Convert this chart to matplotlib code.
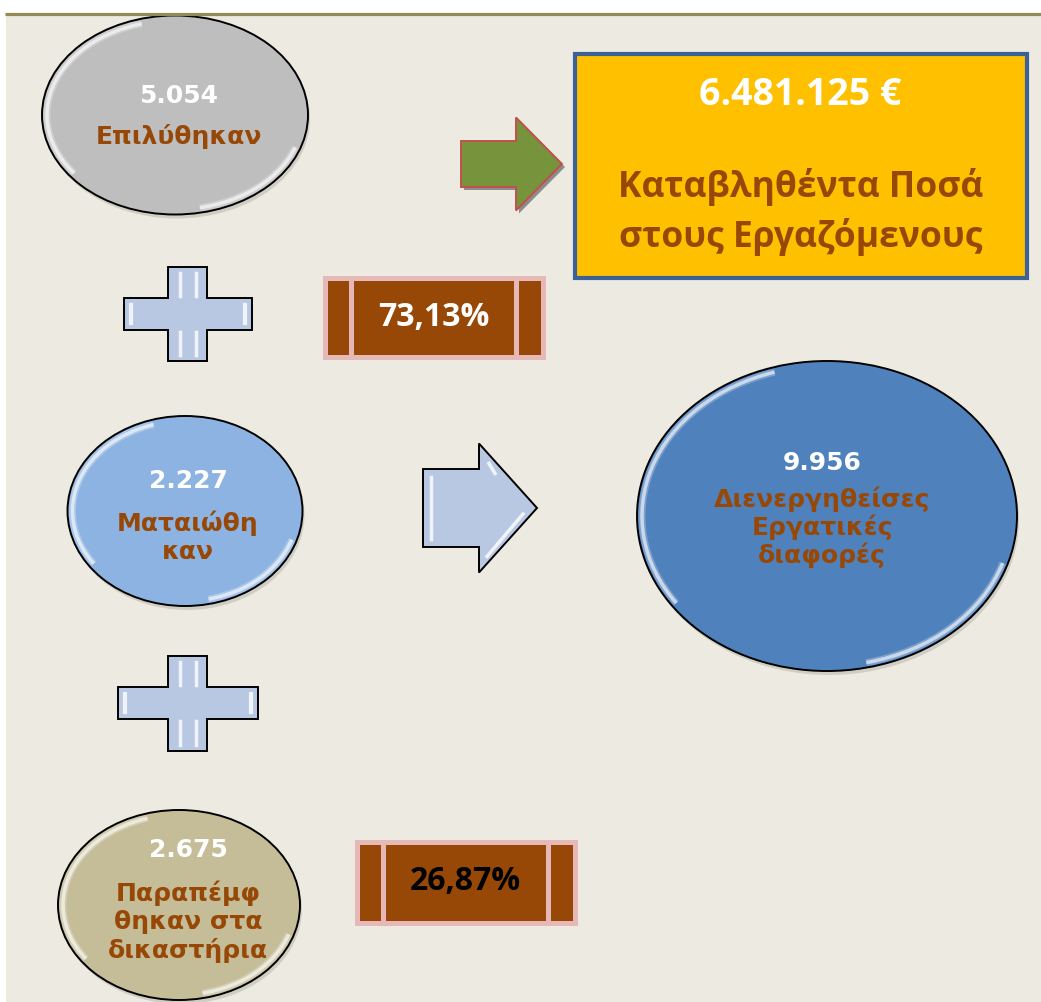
"""Labour disputes infographic, drawn with plain matplotlib patches."""

import matplotlib.pyplot as plt
from matplotlib.patches import Ellipse, Arc, Rectangle, Polygon

# data
node_values = ['5.054', '2.227', '2.675']
node_labels = ['Επιλύθηκαν', 'Ματαιώθη\nκαν', 'Παραπέμφ\nθηκαν στα\nδικαστήρια']
total_value = '9.956'
total_label = 'Διενεργηθείσες\nΕργατικές\nδιαφορές'
paid_amount = '6.481.125 €'
paid_label = 'Καταβληθέντα Ποσά\nστους Εργαζόμενους'
shares = ['73,13%', '26,87%']

# layout (pixels, y down)
W, H = 1041, 1003
node_geom = [(175, 116, 266, 199), (185, 512, 235, 190), (179, 906, 242, 190)]
node_colors = ['#BEBEBE', '#8DB3E2', '#C4BD97']
big_geom = (827, 517, 380, 310)
brown = '#974806'
pink = '#E6B9B8'

plt.rcParams['font.family'] = ['DejaVu Sans']

fig = plt.figure(figsize=(W / 100, H / 100), dpi=100)
ax = fig.add_axes([0, 0, 1, 1])
ax.set_xlim(0, W)
ax.set_ylim(H, 0)
ax.axis('off')

# page background + top rule
ax.add_patch(Rectangle((6, 16), W, H, facecolor='#EDEBE1', edgecolor='none'))
ax.plot([5, W], [14.5, 14.5], color='#948A54', lw=2.3, solid_capstyle='butt')


def glossy_ellipse(cx, cy, w, h, color):
    ax.add_patch(Ellipse((cx + 2, cy + 4), w, h, facecolor='#9a9a90',
                         edgecolor='none', alpha=0.35))
    ax.add_patch(Ellipse((cx, cy), w, h, facecolor=color, edgecolor='black', lw=1.4))
    # soft white rim highlights, upper-left and lower-right
    for lw, a in ((5, 0.25), (2.5, 0.6)):
        ax.add_patch(Arc((cx, cy), w - 10, h - 10, theta1=150, theta2=250,
                         color='white', lw=lw, alpha=a))
        ax.add_patch(Arc((cx, cy), w - 10, h - 10, theta1=15, theta2=75,
                         color='white', lw=lw, alpha=a))


def plus_sign(cx, cy, hw, vh, t, s):
    pts = [(cx - t, cy - vh), (cx + t, cy - vh), (cx + t, cy - s), (cx + hw, cy - s),
           (cx + hw, cy + s), (cx + t, cy + s), (cx + t, cy + vh), (cx - t, cy + vh),
           (cx - t, cy + s), (cx - hw, cy + s), (cx - hw, cy - s), (cx - t, cy - s)]
    ax.add_patch(Polygon(pts, closed=True, facecolor='#B9C8E2', edgecolor='black', lw=1.4))
    for dx in (-8, 8):
        ax.plot([cx + dx, cx + dx], [cy - vh + 6, cy - s - 2], color='white', lw=2.5, alpha=0.8)
        ax.plot([cx + dx, cx + dx], [cy + s + 2, cy + vh - 6], color='white', lw=2.5, alpha=0.8)
    for dx in (-hw + 7, hw - 7):
        ax.plot([cx + dx, cx + dx], [cy - s + 7, cy + s - 7], color='white', lw=3, alpha=0.8)


def block_arrow(x0, x1, xh, cy, half_tail, half_head, face, edge, shadow=False, bevel=False):
    pts = [(x0, cy - half_tail), (xh, cy - half_tail), (xh, cy - half_head), (x1, cy),
           (xh, cy + half_head), (xh, cy + half_tail), (x0, cy + half_tail)]
    if shadow:
        ax.add_patch(Polygon([(x + 3, y + 3) for x, y in pts], closed=True,
                             facecolor='#8c8c8c', edgecolor='none'))
    ax.add_patch(Polygon(pts, closed=True, facecolor=face, edgecolor=edge, lw=1.4))
    if bevel:
        ax.plot([x0 + 8, x0 + 8], [cy - half_tail + 8, cy + half_tail - 8],
                color='white', lw=2.5, alpha=0.8)
        ax.plot([xh + 8, x1 - 14], [cy + half_head - 16, cy + 6],
                color='white', lw=2.5, alpha=0.8)
        ax.plot([xh + 10, xh + 16], [cy - half_head + 20, cy - half_head + 30],
                color='white', lw=2.5, alpha=0.8)


def percent_box(x, y, w, h, text, color):
    ax.add_patch(Rectangle((x, y), w, h, facecolor=pink, edgecolor='none'))
    ax.add_patch(Rectangle((x + 5, y + 5), w - 10, h - 10, facecolor=brown, edgecolor='none'))
    for sx in (x + 26, x + w - 32):
        ax.add_patch(Rectangle((sx, y + 5), 5, h - 10, facecolor=pink, edgecolor='none'))
    ax.text(x + w / 2 - 1, y + h / 2 - 2, text, ha='center', va='center', color=color,
            fontsize=23, fontweight='bold', family=['Open Sans', 'DejaVu Sans'])


# left column of outcome ellipses
for (cx, cy, w, h), col in zip(node_geom, node_colors):
    glossy_ellipse(cx, cy, w, h, col)
nv_y = [96, 481, 850]
nl_y = [136, 537, 922]
nx = [179, 188, 188]
for x, yv, yl, val, lab in zip(nx, nv_y, nl_y, node_values, node_labels):
    ax.text(x, yv, val, ha='center', va='center', color='white', fontsize=18, fontweight='bold')
    ax.text(x, yl, lab, ha='center', va='center', color=brown, fontsize=18,
            fontweight='bold', linespacing=1.2)

# plus signs
plus_sign(187.5, 315, 64, 47, 19.5, 16)
plus_sign(187.5, 704, 70, 47.5, 19.5, 16)

# arrows
block_arrow(461, 562, 516, 165, 23, 46.5, '#77933C', '#C0504D', shadow=True)
block_arrow(423, 537, 479, 509, 39, 64.5, '#B9C8E2', 'black', bevel=True)

# total circle
glossy_ellipse(*big_geom, '#4F81BD')
ax.text(822, 463, total_value, ha='center', va='center', color='white',
        fontsize=18, fontweight='bold')
ax.text(822, 527, total_label, ha='center', va='center', color=brown,
        fontsize=18, fontweight='bold', linespacing=1.13)

# amount box
ax.add_patch(Rectangle((575, 55), 452, 224, facecolor='#FFC000', edgecolor='#3B6196', lw=3))
ax.text(800, 95, paid_amount, ha='center', va='center', color='white', fontsize=27,
        fontweight='bold', family=['Open Sans', 'DejaVu Sans'])
ax.text(801, 212, paid_label, ha='center', va='center', color=brown, fontsize=25.5,
        fontweight='bold', linespacing=1.4, family=['Open Sans', 'DejaVu Sans'])

# share boxes
percent_box(323, 277, 223, 84, shares[0], 'white')
percent_box(355, 841, 223, 86, shares[1], 'black')

fig.savefig('out.png', dpi=100, facecolor='white')
